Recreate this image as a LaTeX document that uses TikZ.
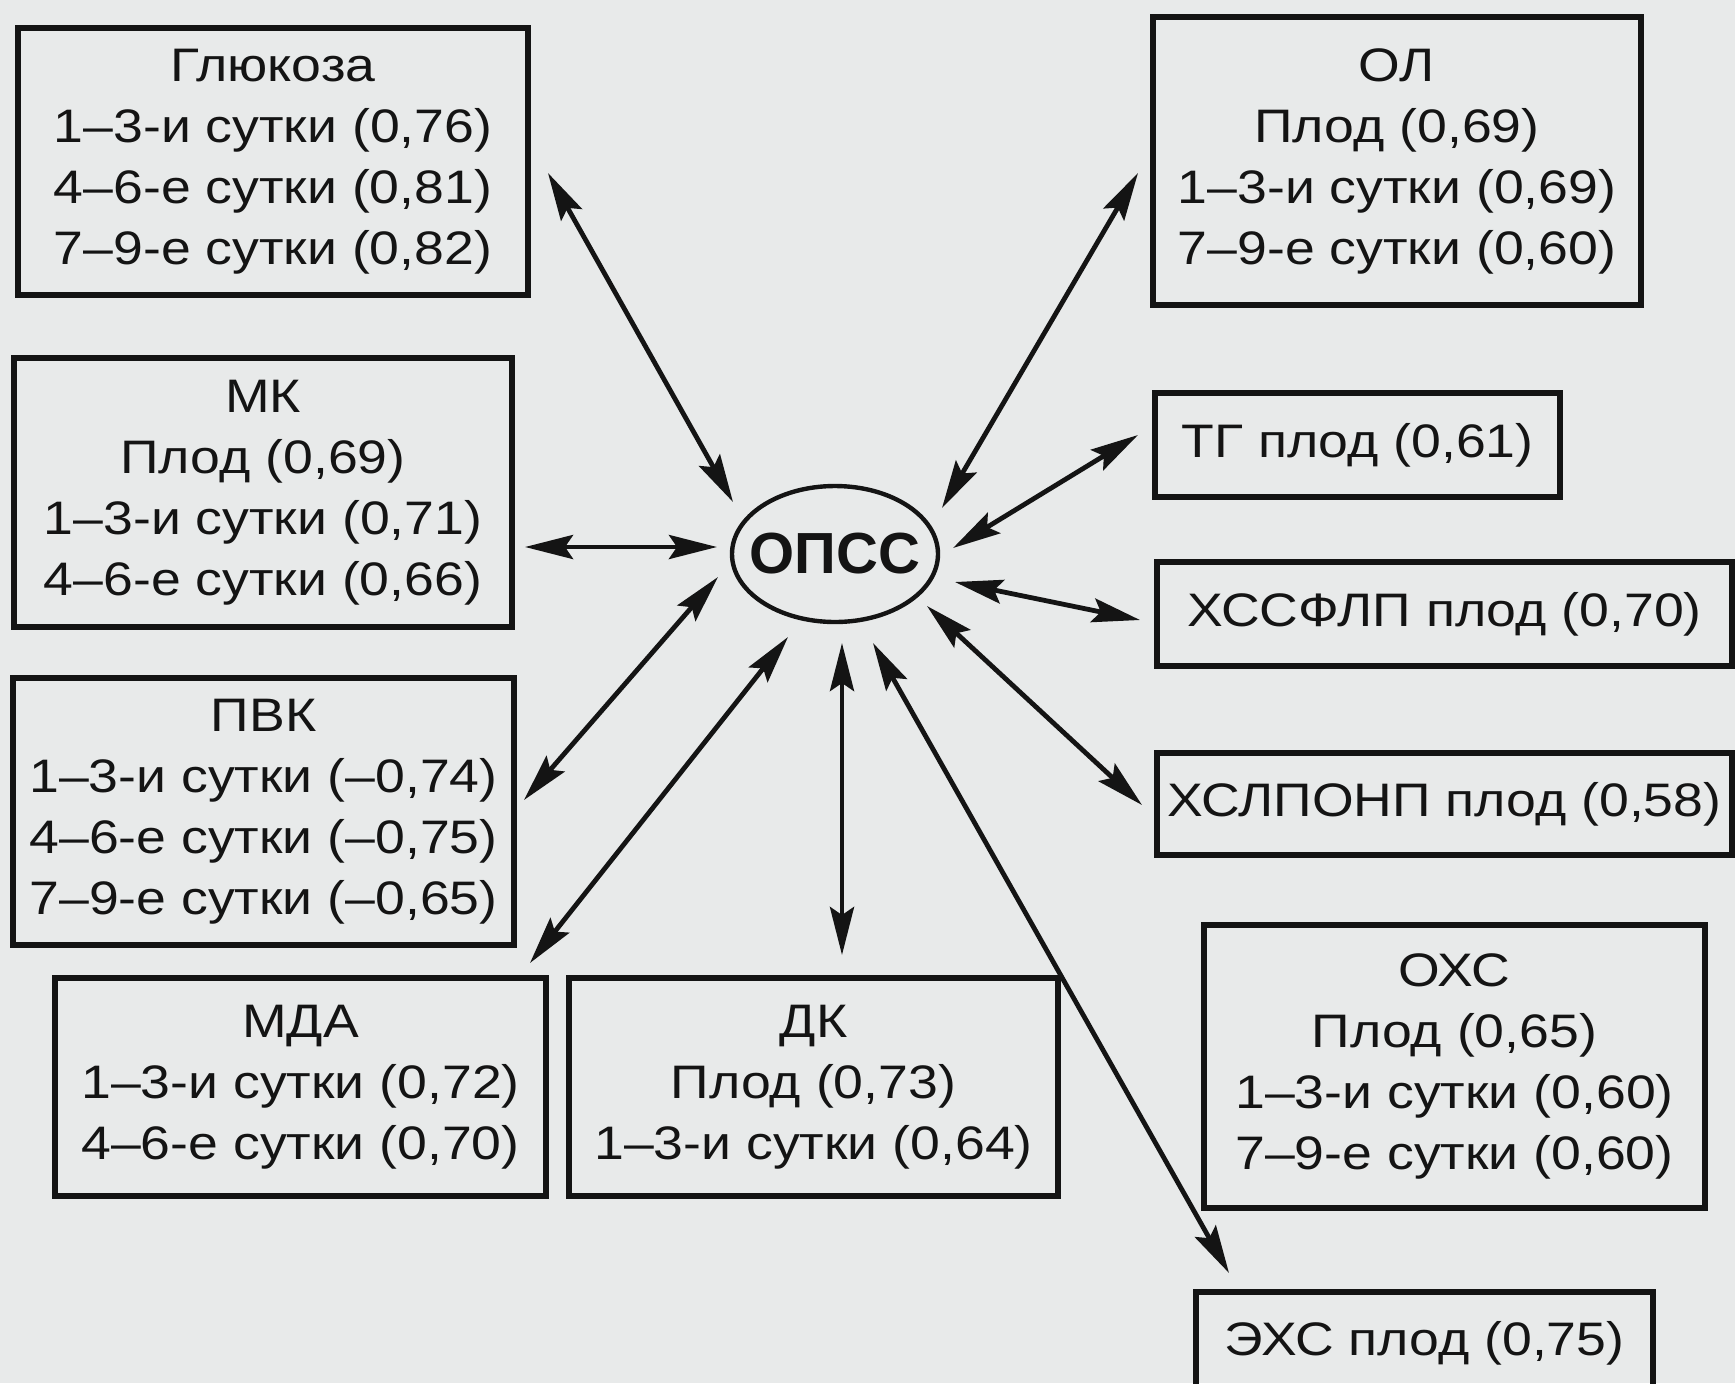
\documentclass[tikz,border=0pt]{standalone}
\usepackage{fontspec}
\setmainfont{Liberation Sans}[FakeStretch=1.14]
\newfontfamily\opssfont{Liberation Sans}
\usetikzlibrary{shapes.geometric,arrows.meta}
\definecolor{bg}{RGB}{232,234,234}
\definecolor{ink}{RGB}{20,20,20}
\tikzset{
  box/.style={draw=ink, line width=2.6pt, inner sep=0pt, align=center, text=ink,
    font=\fontsize{23.5}{30.5}\selectfont},
  conn/.style={draw=ink, line width=2.4pt,
    {Stealth[length=24pt,width=12pt,inset=4pt]}-{Stealth[length=24pt,width=12pt,inset=4pt]}},
}
\begin{document}
\begin{tikzpicture}[x=0.5pt,y=-0.5pt]
\path[use as bounding box, fill=bg] (0,0) rectangle (1735,1383);
\clip (0,0) rectangle (1735,1383);

% centre
\node[ellipse, draw=ink, line width=2.2pt, minimum width=103pt, minimum height=68pt, inner sep=0pt,
  text=ink, font=\opssfont\bfseries\fontsize{29}{34}\selectfont] (opss) at (835,554) {\makebox[0pt]{ОПСС}};

% left column
\node[box, minimum width=255pt, minimum height=133.5pt] (gluc) at (273,161.5)
  {Глюкоза\\1–3-и сутки (0,76)\\4–6-е сутки (0,81)\\7–9-е сутки (0,82)};
\node[box, minimum width=249pt, minimum height=134.5pt] (mk) at (263,492.5)
  {МК\\Плод (0,69)\\1–3-и сутки (0,71)\\4–6-е сутки (0,66)};
\node[box, minimum width=250.5pt, minimum height=133.5pt] (pvk) at (263.5,811.5)
  {ПВК\\1–3-и сутки (–0,74)\\4–6-е сутки (–0,75)\\7–9-е сутки (–0,65)};
\node[box, minimum width=245.5pt, minimum height=109pt] (mda) at (300.5,1087)
  {МДА\\1–3-и сутки (0,72)\\4–6-е сутки (0,70)};
\node[box, minimum width=244.5pt, minimum height=109pt] (dk) at (813.5,1087)
  {ДК\\Плод (0,73)\\1–3-и сутки (0,64)};

% right column
\node[box, minimum width=244pt, minimum height=144pt] (ol) at (1397,161)
  {ОЛ\\Плод (0,69)\\1–3-и сутки (0,69)\\7–9-е сутки (0,60)};
\node[box, minimum width=202.5pt, minimum height=52pt] (tg) at (1357.5,445)
  {ТГ плод (0,61)};
\node[box, minimum width=287.5pt, minimum height=52pt] (hssflp) at (1444.5,614)
  {ХССФЛП плод (0,70)};
\node[box, minimum width=287.5pt, minimum height=51pt] (hslponp) at (1444.5,804)
  {ХСЛПОНП плод (0,58)};
\node[box, minimum width=250.5pt, minimum height=141.5pt] (ohs) at (1454.5,1066.5)
  {ОХС\\Плод (0,65)\\1–3-и сутки (0,60)\\7–9-е сутки (0,60)};
\node[box, minimum width=228.5pt, minimum height=51pt] (ehs) at (1424.5,1343)
  {ЭХС плод (0,75)};

% connector end points
\coordinate (gA) at (548,173);   \coordinate (gB) at (733,502);
\coordinate (mA) at (525,547);   \coordinate (mB) at (717,547);
\coordinate (pA) at (524,800);   \coordinate (pB) at (718,577);
\coordinate (dA) at (530,963);   \coordinate (dB) at (788,637);
\coordinate (kA) at (842,955);   \coordinate (kB) at (842,643);
\coordinate (eA) at (1229,1273); \coordinate (eB) at (873,643);
\coordinate (lA) at (1142,805);  \coordinate (lB) at (927,606);
\coordinate (sA) at (1140,620);  \coordinate (sB) at (955,582);
\coordinate (tA) at (1138,435);  \coordinate (tB) at (953,548);
\coordinate (oA) at (1138,173);  \coordinate (oB) at (942,508);

\draw[conn] (gA) -- (gB);
\draw[conn] (mA) -- (mB);
\draw[conn] (pA) -- (pB);
\draw[conn] (dA) -- (dB);
\draw[conn] (kA) -- (kB);
\draw[conn] (eA) -- (eB);
\draw[conn] (lA) -- (lB);
\draw[conn] (sA) -- (sB);
\draw[conn] (tA) -- (tB);
\draw[conn] (oA) -- (oB);
\end{tikzpicture}
\end{document}
